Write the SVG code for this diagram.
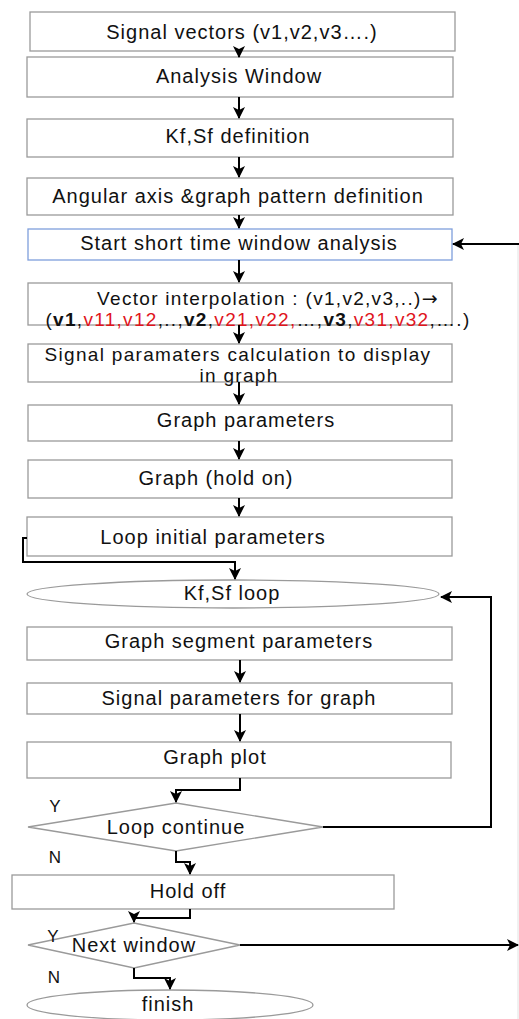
<svg xmlns="http://www.w3.org/2000/svg" width="519" height="1019" viewBox="0 0 519 1019">
  <defs>
    <style>
      .box { fill: #ffffff; stroke: #9a9a9a; stroke-width: 1.3; }
      .blue { stroke: #7f9fdc; }
      .lbl { font-family: "Liberation Sans", Arial, sans-serif; font-size: 20px; letter-spacing: 1px; fill: #111; text-anchor: middle; dominant-baseline: central; }
      .two { font-size: 19px; letter-spacing: 1.3px; }
      .yn { font-family: "Liberation Sans", Arial, sans-serif; font-size: 17px; fill: #111; text-anchor: middle; dominant-baseline: central; }
      .red { fill: #e0141c; }
      .b { font-weight: bold; }
      .sym { font-family: "DejaVu Sans", sans-serif; }
      .wire { fill: none; stroke: #000; stroke-width: 2; }
    </style>
    <marker id="arr" viewBox="0 0 12 12" refX="11" refY="6" markerWidth="12" markerHeight="12" markerUnits="userSpaceOnUse" orient="auto">
      <path d="M0,0 L12,6 L0,12 L3,6 Z" fill="#000"/>
    </marker>
  </defs>
  <rect width="519" height="1019" fill="#ffffff"/>

  <!-- faint right border line -->
  <line x1="518" y1="244" x2="518" y2="1019" stroke="#e2e2e2" stroke-width="1"/>

  <g id="n1"><rect class="box" x="30" y="12" width="425" height="39"/><text class="lbl" x="242" y="32">Signal vectors (v1,v2,v3….)</text></g>
  <g id="n2"><rect class="box" x="27" y="57" width="426" height="40"/><text class="lbl" x="239" y="76">Analysis Window</text></g>
  <g id="n3"><rect class="box" x="27" y="119" width="426" height="38"/><text class="lbl" x="238" y="136">Kf,Sf definition</text></g>
  <g id="n4"><rect class="box" x="27" y="178" width="426" height="37"/><text class="lbl" x="238" y="196">Angular axis &amp;graph pattern definition</text></g>
  <g id="n5"><rect class="box blue" x="28" y="229" width="424" height="31"/><text class="lbl" x="239" y="243">Start short time window analysis</text></g>
  <g id="n6"><rect class="box" x="28" y="283" width="424" height="42"/>
    <text class="lbl two" x="268" y="298">Vector interpolation : (v1,v2,v3,..)<tspan class="sym">→</tspan></text>
    <text class="lbl two" x="258" y="319">(<tspan class="b">v1</tspan>,<tspan class="red">v11,v12</tspan>,..,<tspan class="b">v2</tspan>,<tspan class="red">v21,v22,</tspan>…,<tspan class="b">v3</tspan>,<tspan class="red">v31,v32</tspan>,….)</text>
  </g>
  <g id="n7"><rect class="box" x="28" y="344" width="424" height="38"/>
    <text class="lbl two" x="238" y="354">Signal paramaters calculation to display</text>
    <text class="lbl two" x="239" y="375">in graph</text>
  </g>
  <g id="n8"><rect class="box" x="28" y="405" width="424" height="36"/><text class="lbl" x="246" y="420">Graph parameters</text></g>
  <g id="n9"><rect class="box" x="28" y="460" width="424" height="38"/><text class="lbl" x="216" y="478">Graph (hold on)</text></g>
  <g id="n10"><rect class="box" x="27" y="517" width="425" height="39"/><text class="lbl" x="213" y="537">Loop initial parameters</text></g>
  <g id="n11"><ellipse class="box" cx="233" cy="594" rx="206" ry="14"/><text class="lbl" x="232" y="593">Kf,Sf loop</text></g>
  <g id="n12"><rect class="box" x="27" y="627" width="425" height="33"/><text class="lbl" x="239" y="641">Graph segment parameters</text></g>
  <g id="n13"><rect class="box" x="27" y="683" width="425" height="31"/><text class="lbl" x="239" y="698">Signal parameters for graph</text></g>
  <g id="n14"><rect class="box" x="27" y="742" width="424" height="36"/><text class="lbl" x="215" y="757">Graph plot</text></g>
  <g id="n15"><polygon class="box" points="176,803 323,827 176,851 28,827"/><text class="lbl" x="176" y="827">Loop continue</text></g>
  <g id="n16"><rect class="box" x="12" y="875" width="382" height="34"/><text class="lbl" x="188" y="891">Hold off</text></g>
  <g id="n17"><polygon class="box" points="134,923 240,945 134,968 28,945"/><text class="lbl" x="134" y="945">Next window</text></g>
  <g id="n18"><ellipse class="box" cx="170" cy="1005" rx="143" ry="15"/><text class="lbl" x="168" y="1004">finish</text></g>

  <g id="labels">
    <text class="yn" x="55" y="806">Y</text>
    <text class="yn" x="55" y="857">N</text>
    <text class="yn" x="53" y="936">Y</text>
    <text class="yn" x="54" y="977">N</text>
  </g>

  <g id="connectors">
    <path class="wire" d="M239,51 V57" marker-end="url(#arr)"/>
    <path class="wire" d="M239,97 V118" marker-end="url(#arr)"/>
    <path class="wire" d="M239,157 V177" marker-end="url(#arr)"/>
    <path class="wire" d="M239,215 V228" marker-end="url(#arr)"/>
    <path class="wire" d="M239,260 V282" marker-end="url(#arr)"/>
    <path class="wire" d="M239,325 V343" marker-end="url(#arr)"/>
    <path class="wire" d="M239,382 V404" marker-end="url(#arr)"/>
    <path class="wire" d="M239,441 V459" marker-end="url(#arr)"/>
    <path class="wire" d="M239,498 V516" marker-end="url(#arr)"/>
    <path class="wire" d="M27,538 H23 V562 H235 V579" marker-end="url(#arr)"/>
    <path class="wire" d="M240,660 V682" marker-end="url(#arr)"/>
    <path class="wire" d="M240,714 V741" marker-end="url(#arr)"/>
    <path class="wire" d="M240,778 V790 H176 V802" marker-end="url(#arr)"/>
    <path class="wire" d="M323,827 H491 V597 H441" marker-end="url(#arr)"/>
    <path class="wire" d="M176,851 V862 H190 V874" marker-end="url(#arr)"/>
    <path class="wire" d="M190,909 V918 H134 V922" marker-end="url(#arr)"/>
    <path class="wire" d="M240,945 H518" marker-end="url(#arr)"/>
    <path class="wire" d="M134,968 V978 H170 V989" marker-end="url(#arr)"/>
    <path class="wire" d="M519,244 H453" marker-end="url(#arr)"/>
  </g>
</svg>
